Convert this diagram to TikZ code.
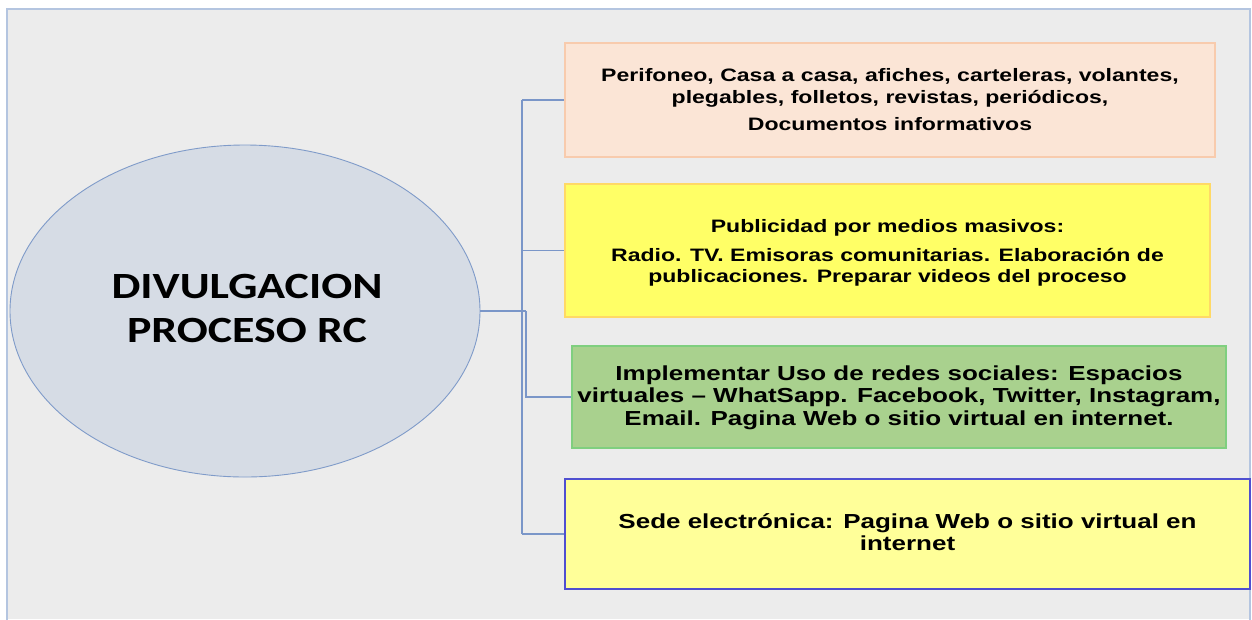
\documentclass[tikz,border=0pt]{standalone}
\usepackage{fontspec}
\usepackage{graphicx}
\setmainfont{Liberation Sans}
\newfontfamily\titlefont{Carlito}
\usetikzlibrary{shapes.geometric}
\definecolor{bgray}{HTML}{ECECEC}
\definecolor{framec}{HTML}{B4C5E0}
\definecolor{ellfill}{HTML}{D6DCE5}
\definecolor{elldraw}{HTML}{7F9BC9}
\definecolor{conn}{HTML}{7A96C8}
\definecolor{peach}{HTML}{FBE5D6}
\definecolor{peachd}{HTML}{F8CBAD}
\definecolor{yel}{HTML}{FFFF66}
\definecolor{yeld}{HTML}{FFD966}
\definecolor{grn}{HTML}{A9D18E}
\definecolor{grnd}{HTML}{7FCF7F}
\definecolor{lyel}{HTML}{FFFF99}
\definecolor{blued}{HTML}{4F4FD0}
\newcommand{\sxtext}[1]{\scalebox{1.28}[1]{\begin{tabular}{@{}c@{}}#1\end{tabular}}}
\newcommand{\sxtitle}[1]{\scalebox{1.24}[1]{\begin{tabular}{@{}c@{}}#1\end{tabular}}}
\tikzset{
  boxnode/.style={rectangle, inner sep=0pt, line width=1.4pt},
  txtnode/.style={inner sep=0pt, font=\bfseries\fontsize{18}{21.5}\selectfont},
  bigtxtnode/.style={inner sep=0pt, font=\bfseries\fontsize{20.3}{22.5}\selectfont},
  conline/.style={draw=conn, line width=1.1pt},
}
\begin{document}
\begin{tikzpicture}[x=1pt,y=-1pt]
\useasboundingbox (0,0) rectangle (1252,619);
\fill[white] (0,0) rectangle (1252,619);
\fill[bgray] (7,9) rectangle (1250,619);
\draw[framec, line width=2pt] (7,625) -- (7,9) -- (1250,9) -- (1250,625);
% central ellipse
\node[ellipse, fill=ellfill, draw=elldraw, line width=0.9pt, minimum width=470pt, minimum height=332pt, inner sep=0pt] (e) at (245,311) {};
\node[inner sep=0pt, font=\titlefont\bfseries\fontsize{37}{43.5}\selectfont] (title) at (247,312) {\sxtitle{DIVULGACION\\PROCESO RC}};
% boxes
\node[boxnode, fill=peach, draw=peachd, minimum width=650pt, minimum height=114pt] (b1) at (890,100) {};
\node[boxnode, fill=yel, draw=yeld, minimum width=645pt, minimum height=133pt] (b2) at (887.5,250.5) {};
\node[boxnode, fill=grn, draw=grnd, minimum width=654pt, minimum height=102pt] (b3) at (899,397) {};
\node[boxnode, fill=lyel, draw=blued, minimum width=685pt, minimum height=110pt] (b4) at (907.5,534) {};
% texts
\node[txtnode] (t1) at ([yshift=-2pt]b1.center) {\sxtext{Perifoneo, Casa a casa, afiches, carteleras, volantes,\\plegables, folletos, revistas, periódicos,\\[6pt]Documentos informativos}};
\node[txtnode] (t2) at ([yshift=-3pt]b2.center) {\sxtext{Publicidad por medios masivos:\\[7pt]Radio. TV. Emisoras comunitarias. Elaboración de\\publicaciones. Preparar videos del proceso}};
\node[bigtxtnode] (t3) at ([yshift=-1pt]b3.center) {\sxtext{Implementar Uso de redes sociales: Espacios\\virtuales – WhatSapp. Facebook, Twitter, Instagram,\\Email. Pagina Web o sitio virtual en internet.}};
\node[bigtxtnode] (t4) at ([yshift=-1pt]b4.center) {\sxtext{Sede electrónica: Pagina Web o sitio virtual en\\internet}};
% connectors
\coordinate (tr) at (522,311);
\coordinate (tr2) at (526,311);
\draw[conline] (e.east) -- (tr2);
\draw[conline] (tr |- b1.west) -- (tr |- b4.west);
\draw[conline] (tr |- b1.west) -- (b1.west);
\draw[conline] (tr |- b2.west) -- (b2.west);
\draw[conline] (tr |- b4.west) -- (b4.west);
\draw[conline] (tr2) -- (tr2 |- b3.west) -- (b3.west);
\end{tikzpicture}
\end{document}
